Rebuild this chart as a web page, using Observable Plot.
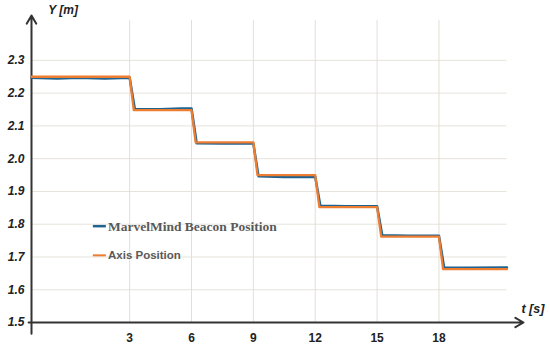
<!DOCTYPE html>
<html>
<head>
<meta charset="utf-8">
<script src="https://cdn.jsdelivr.net/npm/d3@7"></script>
<script src="https://cdn.jsdelivr.net/npm/@observablehq/plot@0.6"></script>
<style>
  body { margin: 0; background: #fff; }
  #chart svg { display: block; }
</style>
</head>
<body>
<div id="chart"></div>
<script>
// Data
const beaconT = [-1.76, -0.5, 0.5, 1.8, 3.0, 3.25, 4.5, 5.5, 6.0, 6.25, 7.5, 9.0, 9.25, 10.5, 12.0, 12.25, 13.5, 15.0, 15.25, 16.5, 18.0, 18.25, 19.5, 21.3];
const beaconY = [2.247, 2.245, 2.247, 2.245, 2.247, 2.152, 2.151, 2.153, 2.153, 2.047, 2.046, 2.046, 1.946, 1.944, 1.945, 1.856, 1.855, 1.855, 1.766, 1.765, 1.765, 1.668, 1.667, 1.668];
const axisT = [-1.76, 3.0, 3.2, 6.0, 6.2, 9.0, 9.2, 12.0, 12.2, 15.0, 15.2, 18.0, 18.2, 21.3];
const axisY = [2.25, 2.25, 2.148, 2.148, 2.05, 2.05, 1.95, 1.95, 1.852, 1.852, 1.762, 1.762, 1.663, 1.663];
const xTicks = [3, 6, 9, 12, 15, 18];
const yTicks = [1.5, 1.6, 1.7, 1.8, 1.9, 2.0, 2.1, 2.2, 2.3];
const seriesNames = ["MarvelMind Beacon Position", "Axis Position"];
const seriesColors = ["#1f6391", "#ed7d31"];

const xDomain = [-1.76, 22.1];
const yDomain = [1.5, 2.437];

const beacon = beaconT.map((t, i) => ({t, y: beaconY[i]}));
const axisPos = axisT.map((t, i) => ({t, y: axisY[i]}));

const chart = Plot.plot({
  width: 550,
  height: 346,
  marginLeft: 31,
  marginRight: 27,
  marginTop: 15,
  marginBottom: 24,
  x: {domain: xDomain, axis: null},
  y: {domain: yDomain, axis: null},
  style: {fontFamily: "Liberation Sans, Arial, sans-serif", background: "#fff"},
  marks: [
    // horizontal gridlines
    Plot.ruleY(yTicks.filter(d => d > 1.5), {x1: xDomain[0], x2: 21.3, stroke: "#e6e3dc", strokeWidth: 1}),
    // vertical gridlines
    Plot.ruleX(xTicks, {y1: 1.5, y2: 2.422, stroke: "#e3dfd4", strokeWidth: 1}),
    // y tick labels
    Plot.text(yTicks, {x: xDomain[0], y: d => d, text: d => d.toFixed(1), dx: -7, textAnchor: "end",
      fontSize: 12, fontWeight: "bold", fontStyle: "italic", fill: "#222"}),
    // x tick labels
    Plot.text(xTicks, {x: d => d, y: 1.5, text: d => String(d), dy: 16, textAnchor: "middle",
      fontSize: 12, fontWeight: "bold", fill: "#222"}),
    // axis lines with arrows
    Plot.arrow([{x1: -1.9, y1: 1.5, x2: xDomain[1], y2: 1.5}], {x1: "x1", y1: "y1", x2: "x2", y2: "y2",
      stroke: "#333", strokeWidth: 2, headLength: 7}),
    Plot.arrow([{x1: xDomain[0], y1: 1.466, x2: xDomain[0], y2: yDomain[1]}], {x1: "x1", y1: "y1", x2: "x2", y2: "y2",
      stroke: "#333", strokeWidth: 2, headLength: 7}),
    // axis titles
    Plot.text(["Y [m]"], {x: -0.95, y: 2.452, text: d => d, textAnchor: "start", fontSize: 12,
      fontWeight: "bold", fontStyle: "italic", fill: "#222"}),
    Plot.text(["t [s]"], {x: 22.0, y: 1.54, text: d => d, textAnchor: "start", fontSize: 12.5,
      fontWeight: "bold", fontStyle: "italic", fill: "#222"}),
    // series
    Plot.line(beacon, {x: "t", y: "y", stroke: seriesColors[0], strokeWidth: 2.5}),
    Plot.line(axisPos, {x: "t", y: "y", stroke: seriesColors[1], strokeWidth: 2.3}),
    // legend swatches
    Plot.ruleY([1.794], {x1: 1.24, x2: 1.87, stroke: seriesColors[0], strokeWidth: 2.5}),
    Plot.ruleY([1.705], {x1: 1.24, x2: 1.87, stroke: seriesColors[1], strokeWidth: 2}),
    Plot.text([seriesNames[0]], {x: 1.95, y: 1.794, text: d => d, textAnchor: "start",
      fontFamily: "Liberation Serif, Times New Roman, serif", fontSize: 13.5, fontWeight: "bold", fill: "#595959"}),
    Plot.text([seriesNames[1]], {x: 1.95, y: 1.705, text: d => d, textAnchor: "start",
      fontSize: 11.5, fontWeight: "bold", fill: "#595959"})
  ]
});
document.getElementById("chart").appendChild(chart);
</script>
</body>
</html>
